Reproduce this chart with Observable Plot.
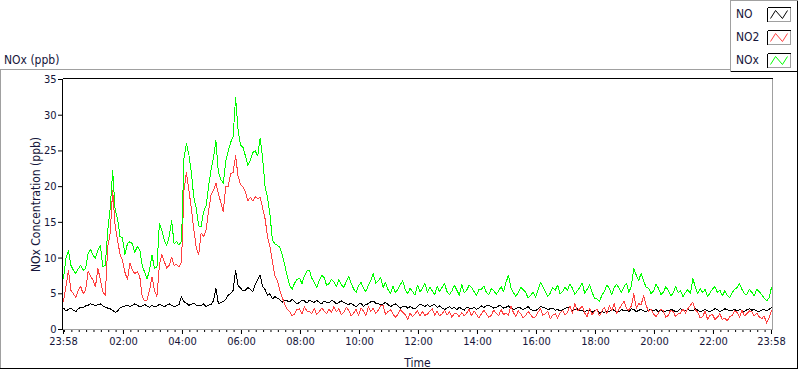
<!DOCTYPE html>
<html><head><meta charset="utf-8">
<script src="https://cdn.jsdelivr.net/npm/d3@7"></script>
<script src="https://cdn.jsdelivr.net/npm/@observablehq/plot@0.6"></script>
<style>
html,body{margin:0;padding:0;background:#fff;}
#chart{width:800px;height:369px;overflow:hidden;}
</style></head><body><div id="chart"></div>
<script>
// ---- data (5-minute readings from 23:58 to 23:58 next day) ----
const startTime = "2024-01-01T23:58:00Z";
const endTime = "2024-01-02T23:58:00Z";
const stepMinutes = 5;
const seriesNames = ["NO", "NO2", "NOx"];
const seriesColors = ["#000000", "#ff4040", "#00ff00"];
const noValues = [
  3.0,2.6,2.8,3.0,2.7,2.5,2.9,3.1,3.1,3.3,
  3.4,3.6,3.5,3.3,3.5,3.6,3.3,3.1,3.0,2.9,
  2.7,2.4,2.6,3.0,3.2,3.3,3.4,3.2,3.4,3.6,
  3.4,3.2,3.3,3.5,3.3,3.1,3.4,3.2,3.3,3.5,
  3.4,3.2,3.4,3.6,3.4,3.2,3.3,3.5,4.6,3.9,
  3.7,3.4,3.5,3.7,3.4,3.3,3.3,3.6,3.2,3.4,
  3.5,4.0,5.8,3.6,3.8,3.9,4.2,4.8,5.0,5.5,
  8.2,6.2,5.8,5.4,5.5,5.9,5.6,5.3,6.3,7.0,
  7.6,6.0,5.6,4.8,5.0,4.3,4.6,4.4,4.2,3.8,
  4.1,4.0,3.9,4.2,3.9,3.6,3.8,4.1,4.0,3.7,
  4.1,3.9,3.8,4.1,3.8,3.6,4.0,3.8,3.7,4.1,
  3.9,3.6,3.8,4.0,3.8,3.6,3.5,3.7,3.4,3.2,
  3.5,3.7,3.2,3.5,3.6,3.9,4.0,3.7,3.7,3.4,
  3.6,3.8,3.5,3.2,3.4,3.6,3.3,3.0,3.2,3.3,
  3.0,3.2,3.0,2.9,3.2,3.6,3.4,3.2,3.5,3.2,
  3.4,3.5,3.1,3.3,3.0,2.8,3.0,3.2,2.9,3.1,
  2.8,3.1,2.9,2.7,3.1,3.0,2.9,3.1,2.8,3.0,
  3.3,3.1,3.3,3.4,3.2,3.0,3.1,3.3,3.3,3.0,
  3.1,3.3,3.0,2.8,2.9,3.1,3.0,2.8,3.0,3.2,
  2.8,2.7,2.6,2.9,3.2,3.1,3.0,2.8,2.9,3.0,
  2.7,2.8,2.6,2.8,2.9,3.1,3.0,2.7,2.8,2.9,
  2.6,2.7,2.5,2.7,2.6,2.4,2.6,2.8,2.3,2.5,
  2.4,2.6,2.5,2.8,2.7,2.4,2.5,2.8,2.6,2.7,
  2.5,2.9,2.8,2.5,2.7,2.8,2.6,2.5,2.7,2.8,
  2.6,2.8,2.5,2.7,2.4,2.6,2.6,2.8,2.7,2.5,
  2.6,2.9,2.7,2.6,2.8,2.6,2.6,2.9,2.7,2.5,
  2.6,2.8,2.6,2.5,2.7,2.9,2.8,2.5,2.7,2.9,
  2.8,2.6,2.7,2.8,2.6,2.8,2.7,2.5,2.8,2.9,
  2.7,2.8,2.6,2.5,2.7,2.8,2.6,2.8,3.1
];
const no2Values = [
  3.9,6.0,8.3,5.5,5.0,4.5,5.5,6.0,5.0,5.5,
  8.1,7.5,6.9,6.0,8.5,7.0,5.3,4.8,11.6,13.5,
  19.5,14.5,12.5,10.5,9.7,8.0,7.0,9.3,8.3,7.8,
  8.1,7.5,4.6,4.0,4.1,5.5,7.4,5.5,4.6,9.0,
  10.5,9.5,8.6,9.0,10.1,9.0,9.1,8.8,9.4,19.5,
  22.0,19.5,17.0,14.0,11.5,10.5,13.5,13.0,14.0,16.5,
  18.8,19.5,20.5,19.0,17.8,16.5,20.0,20.0,21.8,22.0,
  24.3,21.5,20.3,20.0,19.3,18.0,18.5,18.0,18.6,18.3,
  18.5,17.0,15.5,13.0,11.5,9.5,7.5,6.8,5.5,4.5,
  3.5,2.8,2.5,1.9,2.2,2.8,2.9,2.2,3.2,2.6,
  2.5,2.2,3.0,2.1,2.5,3.0,2.6,2.2,2.8,2.4,
  3.2,2.5,2.9,2.1,2.4,3.1,2.7,1.9,2.3,2.8,
  2.0,3.0,2.6,1.9,3.2,2.5,3.0,2.2,2.7,3.3,
  3.4,2.1,2.5,2.8,2.2,1.7,2.1,2.8,2.4,2.1,
  1.4,2.3,1.8,2.2,2.6,1.9,2.5,2.0,2.1,2.6,
  2.9,2.0,2.6,1.9,2.2,2.7,2.0,2.5,1.7,2.3,
  2.2,1.8,2.4,1.9,2.3,2.8,1.9,2.6,2.1,1.6,
  2.2,2.7,2.2,1.7,2.0,2.7,2.3,1.9,2.8,2.1,
  2.3,2.0,3.3,2.4,1.8,2.6,2.2,1.6,2.0,2.5,
  2.1,1.6,1.8,2.4,2.9,2.0,2.2,2.6,1.5,2.0,
  2.2,1.6,2.3,2.7,2.0,2.4,3.3,2.3,3.6,2.6,
  2.9,3.3,2.3,1.8,3.0,2.1,2.5,2.9,1.9,2.6,
  3.1,2.2,3.3,2.7,3.6,2.3,2.9,3.4,4.0,2.9,
  2.7,3.3,5.0,3.0,3.6,3.5,4.8,3.4,2.5,2.9,
  2.2,1.8,2.3,2.8,2.6,1.7,2.0,2.7,2.5,1.8,
  2.2,2.3,2.9,2.3,2.9,3.4,3.8,2.8,2.4,1.6,
  1.8,2.6,1.4,2.0,2.1,1.4,1.7,2.2,1.4,1.6,
  1.2,1.8,2.0,2.6,2.4,1.7,2.7,1.9,2.2,2.6,
  2.5,1.9,2.3,1.8,1.5,1.9,0.9,1.6,2.6
];
const noxValues = [
  7.2,10.0,11.0,9.0,8.3,7.8,8.5,9.0,8.3,8.5,
  10.6,11.2,10.4,10.0,11.1,11.8,8.8,9.0,13.9,17.0,
  22.2,16.8,15.5,13.0,12.8,10.5,12.0,12.3,12.0,10.8,
  11.6,11.2,9.0,8.0,7.1,8.3,10.4,8.6,8.7,14.8,
  13.9,12.5,11.8,13.0,15.2,12.0,12.3,11.8,12.4,24.0,
  26.0,24.5,22.0,18.5,17.0,14.5,14.4,16.5,17.3,20.0,
  22.3,24.0,26.5,22.0,21.0,20.5,23.6,25.0,26.2,27.0,
  32.5,28.0,25.8,25.5,24.3,23.0,23.7,24.8,25.0,24.3,
  26.8,24.0,20.0,18.5,16.0,12.5,12.0,11.8,11.5,10.5,
  9.0,7.5,6.2,5.6,6.5,7.0,7.2,6.4,7.5,8.2,
  8.3,7.2,6.6,5.9,6.8,7.6,7.3,6.2,6.4,7.0,
  6.7,6.0,7.0,6.3,5.9,6.7,7.4,6.5,5.7,5.2,
  6.1,6.6,5.8,5.3,6.2,6.9,7.8,6.5,6.8,7.3,
  5.9,6.6,5.6,5.0,6.1,5.2,5.6,6.3,6.8,5.6,
  5.0,5.8,5.3,4.8,6.2,5.3,5.7,6.5,5.2,5.9,
  5.4,4.9,6.0,5.3,5.9,6.4,5.3,4.9,5.4,6.2,
  5.5,4.8,6.3,5.1,5.5,6.2,5.9,5.3,4.8,5.6,
  5.6,6.1,5.2,4.9,5.7,5.5,4.9,5.4,6.0,5.3,
  6.6,7.6,5.8,5.2,4.6,5.2,5.9,5.6,5.2,4.4,
  4.8,5.2,4.5,5.5,6.6,6.0,5.3,4.6,5.1,5.9,
  5.5,6.2,5.0,5.3,6.0,5.4,6.4,5.8,4.9,5.4,
  5.9,6.5,5.1,5.6,6.3,5.2,4.4,4.3,3.9,4.8,
  5.3,6.2,5.8,4.9,5.9,6.3,5.8,5.2,6.0,6.5,
  5.2,6.1,8.5,7.6,6.9,7.9,6.8,5.9,5.8,5.0,
  5.4,6.3,5.8,4.9,5.2,6.0,5.5,4.7,5.1,6.0,
  5.2,5.4,4.6,5.2,5.6,5.0,7.1,6.0,5.0,5.7,
  5.2,5.6,4.6,5.1,5.7,6.0,5.2,5.5,4.7,5.4,
  4.8,4.5,5.2,5.6,5.9,6.4,5.6,5.0,4.9,5.6,
  5.2,4.7,5.6,5.3,4.9,4.4,4.0,4.4,5.9
];
const yTicks = [0, 5, 10, 15, 20, 25, 30, 35];
const xMajorTicks = [
  "2024-01-01T23:58:00Z","2024-01-02T02:00:00Z","2024-01-02T04:00:00Z",
  "2024-01-02T06:00:00Z","2024-01-02T08:00:00Z","2024-01-02T10:00:00Z",
  "2024-01-02T12:00:00Z","2024-01-02T14:00:00Z","2024-01-02T16:00:00Z",
  "2024-01-02T18:00:00Z","2024-01-02T20:00:00Z","2024-01-02T22:00:00Z",
  "2024-01-02T23:58:00Z"
];
const minorTickMinutes = 15;
const yLabel = "NOx Concentration (ppb)";
const xLabel = "Time";
const graphTitle = "NOx (ppb)";

// ---- build table ----
const t0 = new Date(startTime), t1 = new Date(endTime);
const valuesBySeries = [noValues, no2Values, noxValues];
const rows = [];
valuesBySeries.forEach((vals, s) => {
  vals.forEach((v, i) => rows.push({
    time: new Date(+t0 + i * stepMinutes * 60000), value: v, series: seriesNames[s]
  }));
});
const majorDates = xMajorTicks.map(d => new Date(d));
const minorDates = d3.utcMinute.every(minorTickMinutes).range(t0, t1);

const FONT = "'DejaVu Sans Condensed', 'DejaVu Sans', sans-serif";
const TEXT = "#15153a";

const plot = Plot.plot({
  width: 800, height: 369,
  marginLeft: 63, marginRight: 29, marginTop: 79, marginBottom: 40,
  style: {fontFamily: FONT, fontSize: "11px", fontStretch: "condensed", color: TEXT, background: "#fff", overflow: "visible"},
  x: {type: "utc", domain: [t0, t1]},
  y: {domain: [0, 35]},
  color: {domain: seriesNames, range: seriesColors},
  marks: [
    Plot.axisY({ticks: yTicks, tickSize: 5, tickPadding: 2, label: yLabel, labelAnchor: "center", labelArrow: "none", labelOffset: 32, stroke: "#000"}),
    Plot.axisX({ticks: minorDates, tickSize: 3, text: null, label: null, stroke: "#000"}),
    Plot.axisX({ticks: majorDates, tickSize: 5, tickPadding: 3, tickFormat: d3.utcFormat("%H:%M"), label: xLabel, labelAnchor: "center", labelArrow: "none", labelOffset: 37, stroke: "#000"}),
    Plot.line(rows, {x: "time", y: "value", z: "series", stroke: "series", strokeWidth: 1, shapeRendering: "crispEdges"})
  ]
});

// ---- decorations: frames, title, legend ----
const svg = d3.select(plot);
svg.selectAll('g[aria-label="y-axis label"] text, g[aria-label="x-axis label"] text').style("font-size", "12px");
const [x0, x1] = plot.scale("x").range;
const [yb, yt] = plot.scale("y").range;
const line = (g, a, b, c, d, col) => g.append("line").attr("x1", a).attr("y1", b).attr("x2", c).attr("y2", d).attr("stroke", col).attr("stroke-width", 1).attr("shape-rendering", "crispEdges");
const deco = svg.append("g").attr("text-anchor", "start");
// plot frame
line(deco, x0 - 0.5, yt - 0.5, x1 + 1.5, yt - 0.5, "#000");
line(deco, x0 - 0.5, yt - 0.5, x0 - 0.5, yb + 0.5, "#000");
line(deco, x0 - 0.5, yb + 0.5, x1 + 1.5, yb + 0.5, "#a0a0a0");
line(deco, x1 + 1.5, yt - 0.5, x1 + 1.5, yb + 0.5, "#a0a0a0");
// outer frame
line(deco, 0, 69.5, 731, 69.5, "#a0a0a0");
line(deco, 0.5, 69.5, 0.5, 368.5, "#a0a0a0");
line(deco, 0, 368.5, 798, 368.5, "#000");
line(deco, 797.5, 0, 797.5, 369, "#000");
// title
deco.append("text").attr("x", 4).attr("y", 60).attr("dy", "0.35em").attr("fill", TEXT).attr("text-anchor", "start")
  .style("font-family", FONT).style("font-size", "12px").style("font-stretch", "condensed").text(graphTitle);
// legend
const lg = svg.append("g").attr("text-anchor", "start");
line(lg, 730.5, 0, 730.5, 72, "#a0a0a0");
line(lg, 730.5, 0.5, 798, 0.5, "#a0a0a0");
line(lg, 730.5, 71.5, 798, 71.5, "#000");
seriesNames.forEach((name, i) => {
  const cy = 13.5 + i * 23.3;
  lg.append("text").attr("x", 736).attr("y", cy).attr("dy", "0.35em").attr("fill", TEXT).attr("text-anchor", "start")
    .style("font-family", FONT).style("font-size", "12px").style("font-stretch", "condensed").text(name);
  const bx = 767.5, by = Math.round(cy - 7) + 0.5, bw = 23, bh = 14;
  lg.append("rect").attr("x", bx).attr("y", by).attr("width", bw).attr("height", bh).attr("fill", "#fff").attr("stroke", "none");
  line(lg, bx, by, bx + bw, by, "#000");
  line(lg, bx, by, bx, by + bh, "#000");
  line(lg, bx, by + bh, bx + bw, by + bh, "#a0a0a0");
  line(lg, bx + bw, by, bx + bw, by + bh, "#a0a0a0");
  lg.append("path").attr("fill", "none").attr("stroke", seriesColors[i]).attr("stroke-width", 1)
    .attr("d", `M${bx + 3},${by + bh - 3}L${bx + bw * 0.35},${by + 3}L${bx + bw * 0.65},${by + bh - 3}L${bx + bw - 3},${by + 3}`);
});

document.getElementById("chart").appendChild(plot);
</script>
</body></html>
